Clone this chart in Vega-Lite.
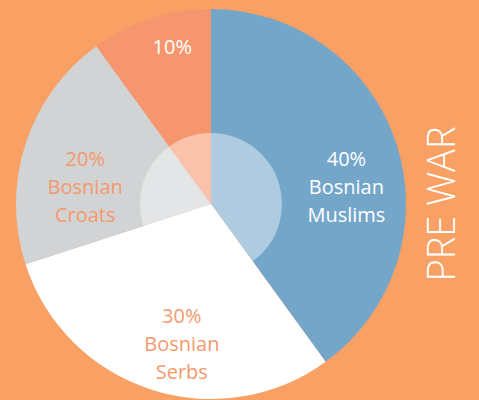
{
  "$schema": "https://vega.github.io/schema/vega-lite/v6.json",
  "width": 422,
  "height": 392,
  "autosize": {"type": "none"},
  "padding": {"left": 0, "top": 8, "right": 57, "bottom": 0},
  "background": "#F9A064",
  "title": {"text": "PRE WAR", "orient": "right", "angle": -90, "font": "Open Sans", "fontWeight": 300, "fontSize": 38, "color": "#FFFFFF", "anchor": "middle", "offset": -35},
  "config": {"view": {"stroke": null}},
  "data": {"values": [
    {"group": "Bosnian Muslims", "value": 40, "label": "40%\nBosnian\nMuslims"},
    {"group": "Bosnian Serbs", "value": 30, "label": "30%\nBosnian\nSerbs"},
    {"group": "Bosnian Croats", "value": 20, "label": "20%\nBosnian\nCroats"},
    {"group": "Other", "value": 10, "label": "10%"}
  ]},
  "encoding": {
    "theta": {"field": "value", "type": "quantitative", "stack": true},
    "order": {"field": "value", "type": "quantitative", "sort": "descending"}
  },
  "layer": [
    {
      "mark": {"type": "arc", "outerRadius": 195},
      "encoding": {
        "color": {"field": "group", "type": "nominal", "legend": null,
          "scale": {"domain": ["Bosnian Muslims", "Bosnian Serbs", "Bosnian Croats", "Other"],
                    "range": ["#74A6CA", "#FFFFFF", "#D1D3D4", "#F6966F"]}}
      }
    },
    {
      "mark": {"type": "arc", "outerRadius": 71, "fill": "#FFFFFF", "fillOpacity": 0.42}
    },
    {
      "mark": {"type": "text", "radius": 135, "dx": 7, "dy": -2, "font": "Open Sans", "fontSize": 20, "lineHeight": 28, "lineBreak": "\n", "color": "#FFFFFF", "align": "center", "baseline": "middle"},
      "encoding": {"text": {"condition": {"test": "datum.group === 'Bosnian Muslims'", "field": "label"}, "value": ""}}
    },
    {
      "mark": {"type": "text", "radius": 161, "dx": 11, "dy": -3, "font": "Open Sans", "fontSize": 20, "lineHeight": 28, "lineBreak": "\n", "color": "#FFFFFF", "align": "center", "baseline": "middle"},
      "encoding": {"text": {"condition": {"test": "datum.group === 'Other'", "field": "label"}, "value": ""}}
    },
    {
      "mark": {"type": "text", "radius": 127, "dx": -5, "dy": -5, "font": "Open Sans", "fontSize": 20, "lineHeight": 28, "lineBreak": "\n", "color": "#F5996C", "align": "center", "baseline": "middle"},
      "encoding": {"text": {"condition": {"test": "datum.group === 'Bosnian Croats'", "field": "label"}, "value": ""}}
    },
    {
      "mark": {"type": "text", "radius": 143, "dx": 15, "dy": -23, "font": "Open Sans", "fontSize": 20, "lineHeight": 28, "lineBreak": "\n", "color": "#F5996C", "align": "center", "baseline": "middle"},
      "encoding": {"text": {"condition": {"test": "datum.group === 'Bosnian Serbs'", "field": "label"}, "value": ""}}
    }
  ]
}
